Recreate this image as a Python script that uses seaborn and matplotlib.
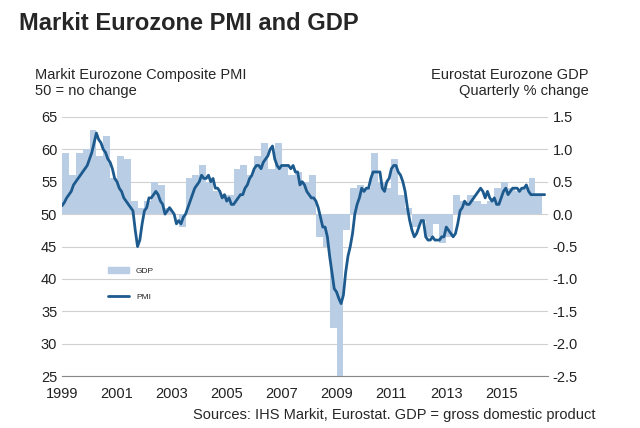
import numpy as np
import pandas as pd
import matplotlib
matplotlib.use("Agg")
import matplotlib.pyplot as plt
import seaborn as sns
from matplotlib.patches import Patch
from matplotlib.lines import Line2D

sns.set_style("white")
plt.rcParams['font.family'] = ['Liberation Sans', 'DejaVu Sans']

pmi = [
 51.3,51.8,52.5,53.0,53.5,54.5,55.0,55.5,56.0,56.5,57.0,57.5,
 58.5,59.5,61.0,62.5,61.5,61.0,60.0,59.5,58.5,58.0,57.0,55.5,
 55.0,54.0,53.5,52.5,52.0,51.5,51.0,50.5,47.5,45.0,46.0,48.5,
 50.5,51.0,52.5,52.5,53.0,53.5,53.0,52.0,51.5,50.0,50.5,51.0,
 50.5,50.0,48.5,49.0,48.5,49.5,50.0,51.0,52.0,53.0,54.0,54.5,
 55.0,56.0,55.5,55.5,56.0,55.0,55.5,54.0,54.0,53.5,52.5,53.0,
 52.0,52.5,51.5,51.5,52.0,52.5,53.0,53.0,54.0,54.5,55.5,56.0,
 57.0,57.5,57.5,57.0,58.0,58.5,59.0,60.0,60.5,58.5,57.5,57.0,
 57.5,57.5,57.5,57.5,57.0,57.5,56.5,56.5,54.5,55.0,54.5,53.5,
 53.0,52.5,52.5,52.0,51.0,49.5,48.0,48.0,46.5,43.5,41.0,38.5,
 38.0,37.0,36.2,37.5,41.0,43.5,45.0,47.0,50.0,51.5,52.5,54.0,
 53.5,54.0,54.0,55.5,56.5,56.5,56.5,56.5,54.0,53.5,55.0,55.5,
 57.0,57.5,57.5,56.5,56.0,55.0,53.5,51.0,49.0,47.5,46.5,47.0,
 48.0,49.0,49.0,46.5,46.0,46.0,46.5,46.0,46.0,46.0,46.5,46.5,
 48.0,47.5,47.0,46.5,47.0,48.5,50.5,51.0,52.0,51.5,51.5,52.0,
 52.5,53.0,53.5,54.0,53.5,52.5,53.5,52.5,52.0,52.5,51.5,51.5,
 52.5,53.5,54.0,53.0,53.5,54.0,54.0,54.0,53.5,54.0,54.0,54.5,
 53.5,53.0,53.0,53.0,53.0,53.0,53.0,53.0]

gdp = [
 0.95,0.6,0.95,1.0, 1.3,0.9,1.2,0.55, 0.9,0.85,0.2,0.1,
 0.2,0.5,0.45,0.1, 0.0,-0.2,0.55,0.6, 0.75,0.5,0.35,0.3,
 0.3,0.7,0.75,0.6, 0.9,1.1,0.7,1.1, 0.75,0.6,0.65,0.5,
 0.6,-0.35,-0.5,-1.75, -2.9,-0.25,0.4,0.45, 0.4,0.95,0.5,0.4,
 0.85,0.3,0.1,-0.2, -0.1,-0.35,-0.15,-0.45, -0.35,0.3,0.2,0.3,
 0.2,0.15,0.2,0.4, 0.5,0.4,0.35,0.4, 0.55,0.3]

start = 1999
months = start + np.arange(len(pmi)) / 12
quarters = start + np.arange(len(gdp)) * 0.25
year_ticks = list(range(1999, 2017, 2))

fig = plt.figure(figsize=(6.4, 4.28), dpi=100)
axl = fig.add_axes([0.097, 0.121, 0.759, 0.606])
axr = axl.twinx()

axr.bar(quarters, gdp, width=0.25, align='edge', color='#b9cde5', edgecolor='none')
axr.set_ylim(-2.5, 1.5)
axr.set_yticks(np.arange(-2.5, 1.51, 0.5))
axr.set_yticklabels([f"{v:.1f}" for v in np.arange(-2.5, 1.51, 0.5)])

df = pd.DataFrame({'date': months, 'pmi': pmi})
sns.lineplot(data=df, x='date', y='pmi', ax=axl, color='#1d5a8e', linewidth=2)
axl.set_ylim(25, 65)
axl.set_yticks(range(25, 66, 5))
axl.set_xlim(1999, 2016.7)
axl.set_xticks(year_ticks)
axl.set_xlabel('')
axl.set_ylabel('')
axl.set_zorder(axr.get_zorder() + 1)
axl.patch.set_visible(False)
for v in range(25, 66, 5):
    axr.axhline((v - 50) / 10, color='#d0d0d0', lw=0.8, zorder=0)

for a in (axl, axr):
    for s in a.spines.values():
        s.set_visible(False)
    a.tick_params(labelsize=10.5, length=0, colors='#222222')
axl.spines['bottom'].set_visible(True)
axl.spines['bottom'].set_color('#888888')
axl.tick_params(axis='x', length=4, direction='out', color='#888888')

handles = [Patch(color='#b9cde5', label='GDP'), Line2D([], [], color='#1d5a8e', lw=2, label='PMI')]
axl.legend(handles=handles, loc='upper left', bbox_to_anchor=(0.08, 0.45), frameon=False,
           fontsize=6, labelspacing=2.2, handlelength=2.5)

fig.text(0.03, 0.93, 'Markit Eurozone PMI and GDP', fontsize=17, fontweight='bold')
fig.text(0.055, 0.77, 'Markit Eurozone Composite PMI\n50 = no change', fontsize=10.5, va='bottom')
fig.text(0.92, 0.77, 'Eurostat Eurozone GDP\nQuarterly % change', fontsize=10.5, va='bottom', ha='right')
fig.text(0.93, 0.02, 'Sources: IHS Markit, Eurostat. GDP = gross domestic product', fontsize=10.5, ha='right')

fig.savefig('out.png', dpi=100)
